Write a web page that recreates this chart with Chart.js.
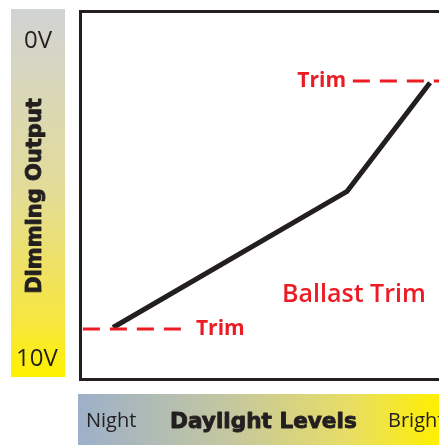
<!DOCTYPE html>
<html>
<head>
<meta charset="utf-8">
<script src="https://cdn.jsdelivr.net/npm/chart.js@4.4.0/dist/chart.umd.min.js"></script>
<style>
  html, body { margin: 0; padding: 0; background: #fff; }
  #wrap { width: 439px; height: 445px; position: relative; overflow: hidden; }
</style>
</head>
<body>
<div id="wrap"><canvas id="chart" width="439" height="445"></canvas></div>
<script>
// daylight level (0-100) vs dimming output (0V top, 10V bottom)
const curveX = [9.2, 74.4, 97.5];
const curveY = [8.6, 4.9, 1.95];

const lowTrimX = [0.8, 28.4];
const lowTrimLevel = 8.64;
const highTrimX = [76, 100];
const highTrimLevel = 1.9;

const voltLabels = ["0V", "10V"];
const levelLabels = ["Night", "Daylight Levels", "Bright"];

const RED = "#ec1c24";
const INK = "#231f20";

function pts(xs, ys) {
  return xs.map((x, i) => ({ x: x, y: Array.isArray(ys) ? ys[i] : ys }));
}

// heavy text: fill plus a thin stroke to get closer to a black weight
function heavyText(ctx, s, x, y) {
  ctx.fillText(s, x, y);
  ctx.strokeText(s, x, y);
}

const decor = {
  id: "decor",
  beforeDraw(chart) {
    const ctx = chart.ctx;
    ctx.save();
    // left voltage bar
    let g = ctx.createLinearGradient(0, 9, 0, 377);
    g.addColorStop(0, "#d1d3d4");
    g.addColorStop(0.5, "#e3dc96");
    g.addColorStop(0.85, "#f7e640");
    g.addColorStop(1, "#fff200");
    ctx.fillStyle = g;
    ctx.fillRect(11, 9, 54, 368);
    // bottom daylight bar
    g = ctx.createLinearGradient(78, 0, 439, 0);
    g.addColorStop(0, "#9db0c9");
    g.addColorStop(0.4, "#c2c6a2");
    g.addColorStop(0.75, "#e8dd66");
    g.addColorStop(1, "#fff000");
    ctx.fillStyle = g;
    ctx.fillRect(78, 394, 361, 51);
    ctx.restore();
  },
  afterDraw(chart) {
    const ctx = chart.ctx;
    const x = chart.scales.x, y = chart.scales.y;
    ctx.save();
    ctx.fillStyle = INK;
    ctx.strokeStyle = INK;
    ctx.lineWidth = 0.9;
    ctx.lineJoin = "round";
    ctx.textBaseline = "middle";
    ctx.textAlign = "center";
    ctx.font = "24px 'Open Sans'";
    ctx.fillText(voltLabels[0], 38, 41);
    ctx.fillText(voltLabels[1], 37, 359);

    ctx.save();
    ctx.translate(36, 196);
    ctx.rotate(-Math.PI / 2);
    ctx.font = "bold 21px 'DejaVu Sans'";
    heavyText(ctx, "Dimming Output", 0, 0);
    ctx.restore();

    ctx.textAlign = "left";
    ctx.font = "20px 'Open Sans'";
    ctx.fillText(levelLabels[0], 86, 421);
    ctx.fillText(levelLabels[2], 388, 421);
    ctx.font = "bold 21.6px 'DejaVu Sans'";
    heavyText(ctx, levelLabels[1], 170, 422);

    // red annotations
    ctx.fillStyle = RED;
    ctx.font = "bold 21px 'Open Sans'";
    ctx.textAlign = "left";
    ctx.fillText("Trim", x.getPixelForValue(32.3), y.getPixelForValue(lowTrimLevel));
    ctx.textAlign = "right";
    ctx.fillText("Trim", x.getPixelForValue(74.1), y.getPixelForValue(highTrimLevel));
    ctx.textAlign = "left";
    ctx.font = "600 25px 'Open Sans'";
    ctx.fillText("Ballast Trim", x.getPixelForValue(56.3), y.getPixelForValue(7.72));
    ctx.restore();
  }
};

const axisBorder = { display: true, width: 3, color: INK };

new Chart(document.getElementById("chart"), {
  type: "line",
  data: {
    datasets: [
      {
        data: pts(lowTrimX, lowTrimLevel),
        borderColor: RED,
        borderWidth: 3,
        borderDash: [17, 10],
        pointRadius: 0
      },
      {
        data: pts(highTrimX, highTrimLevel),
        borderColor: RED,
        borderWidth: 3,
        borderDash: [17, 10],
        pointRadius: 0
      },
      {
        data: pts(curveX, curveY),
        borderColor: INK,
        borderWidth: 5,
        borderCapStyle: "butt",
        borderJoinStyle: "miter",
        pointRadius: 0
      }
    ]
  },
  options: {
    responsive: false,
    animation: false,
    layout: { padding: { left: 80, top: 11, right: 0, bottom: 66 } },
    plugins: { legend: { display: false }, tooltip: { enabled: false } },
    scales: {
      x: {
        type: "linear", position: "bottom", min: 0, max: 100,
        ticks: { display: false },
        grid: { display: false, drawTicks: false },
        border: axisBorder
      },
      xTop: {
        type: "linear", position: "top", min: 0, max: 100,
        ticks: { display: false },
        grid: { display: false, drawTicks: false },
        border: axisBorder
      },
      y: {
        type: "linear", position: "left", min: 0, max: 10, reverse: true,
        ticks: { display: false },
        grid: { display: false, drawTicks: false },
        border: axisBorder
      }
    }
  },
  plugins: [decor]
});
</script>
</body>
</html>
